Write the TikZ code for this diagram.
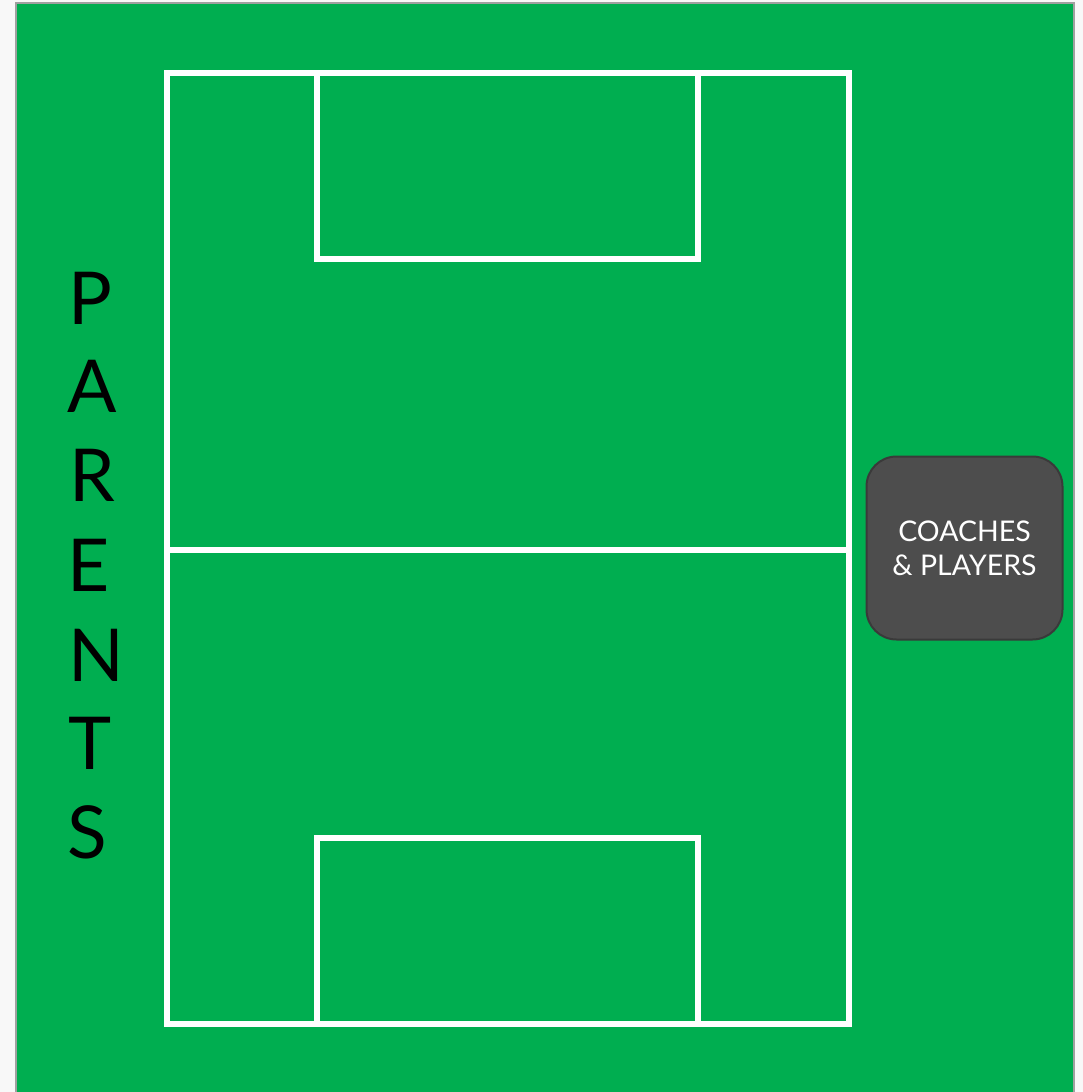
\documentclass[tikz,border=0pt]{standalone}
\usepackage{fontspec}
\setmainfont{Lato}
\definecolor{pitch}{RGB}{0,174,80}
\definecolor{frame}{RGB}{160,160,160}
\definecolor{paper}{RGB}{248,248,248}
\definecolor{boxfill}{RGB}{77,77,77}
\definecolor{boxline}{RGB}{58,58,58}
\begin{document}
\begin{tikzpicture}[x=1pt,y=-1pt,
  line/.style={draw=white,line width=6pt},
  letter/.style={inner sep=0pt,font=\fontsize{73}{73}\selectfont,text=black}]
\useasboundingbox (0,0) rectangle (1083,1092);
\fill[paper] (0,0) rectangle (1083,1092);
\fill[pitch,draw=frame,line width=2pt] (16,3) rectangle (1074,1100);
% field
\draw[line] (167,73) rectangle (849,1024);
\draw[line] (167,550) -- (849,550);
\draw[line] (317,73) rectangle (698,259);
\draw[line] (317,838) rectangle (698,1024);
% coaches box
\node[draw=boxline,line width=2pt,fill=boxfill,rounded corners=30pt,
  minimum width=196pt,minimum height=183pt,inner sep=0pt,
  text=white,align=center,font=\fontsize{28.5}{34}\selectfont]
  (coaches) at (964.5,548) {COACHES\\\& PLAYERS};
% parents
\node[letter] (p1) at (90,298) {P};
\node[letter] (p2) at (92,386) {A};
\node[letter] (p3) at (92,475) {R};
\node[letter] (p4) at (89,565) {E};
\node[letter] (p5) at (96,655) {N};
\node[letter] (p6) at (90,743) {T};
\node[letter] (p7) at (87,832) {S};
\end{tikzpicture}
\end{document}
